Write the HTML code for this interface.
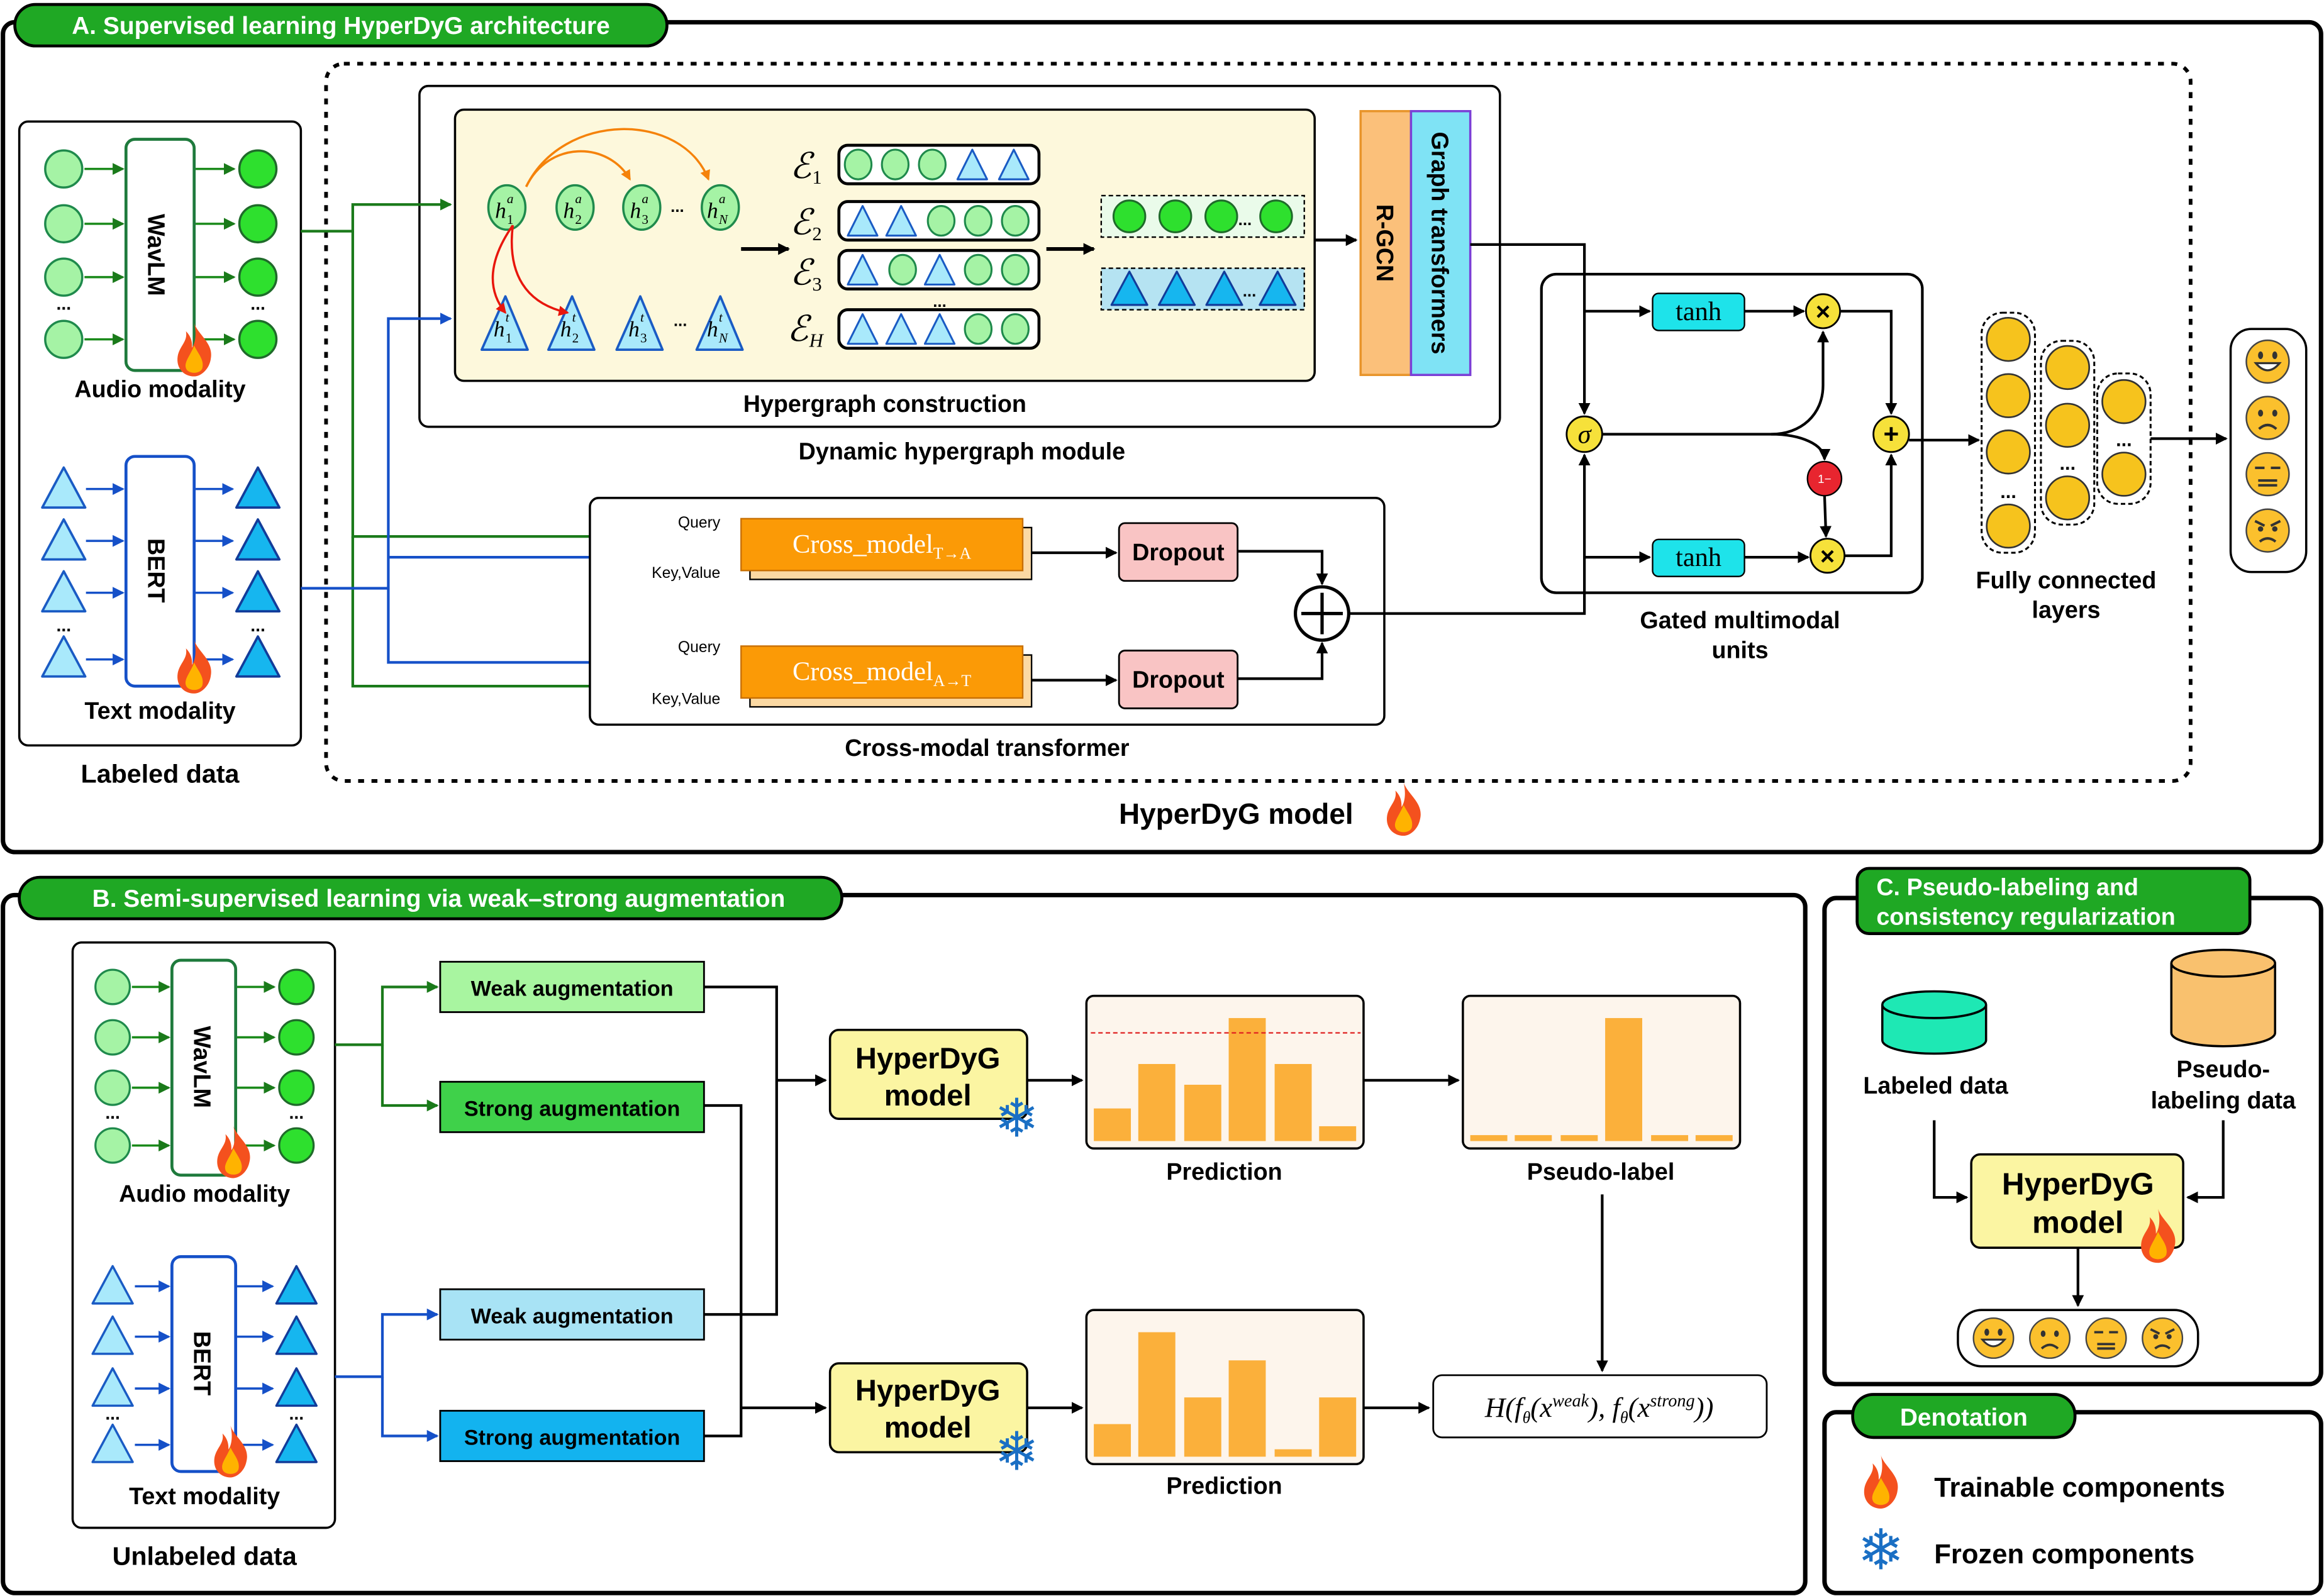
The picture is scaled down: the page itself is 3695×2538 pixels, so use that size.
<!DOCTYPE html>
<html><head><meta charset="utf-8"><style>
html,body{margin:0;padding:0;background:#fff}
svg{display:block}
text{font-family:"Liberation Sans",Arial,sans-serif}
text.sf,text .sf{font-family:"Liberation Serif","DejaVu Serif",serif}
text.dj{font-family:"DejaVu Sans",sans-serif}
.b{font-weight:bold}
</style></head><body>
<svg width="3695" height="2538" viewBox="0 0 1568 1077" xmlns="http://www.w3.org/2000/svg">
<defs>
<marker id="ak" markerWidth="8" markerHeight="8" refX="7" refY="4" orient="auto" markerUnits="userSpaceOnUse"><path d="M0,0 L8,4 L0,8Z" fill="#000"/></marker>
<marker id="ag" markerWidth="8" markerHeight="8" refX="7" refY="4" orient="auto" markerUnits="userSpaceOnUse"><path d="M0,0 L8,4 L0,8Z" fill="#1a7a1a"/></marker>
<marker id="ab" markerWidth="8" markerHeight="8" refX="7" refY="4" orient="auto" markerUnits="userSpaceOnUse"><path d="M0,0 L8,4 L0,8Z" fill="#1550c8"/></marker>
<marker id="ao" markerWidth="7" markerHeight="7" refX="6" refY="3.5" orient="auto" markerUnits="userSpaceOnUse"><path d="M0,0 L7,3.5 L0,7Z" fill="#f5820a"/></marker>
<marker id="ar" markerWidth="7" markerHeight="7" refX="6" refY="3.5" orient="auto" markerUnits="userSpaceOnUse"><path d="M0,0 L7,3.5 L0,7Z" fill="#e8160c"/></marker>
<symbol id="fire" viewBox="0 0 20 26"><path d="M10 0 C12 6 20 10 18 18 C17 23 13 26 10 26 C5 26 1 22 2 16 C3 11 7 9 6 4 C9 7 9 10 9 12 C11 9 11 4 10 0Z" fill="#f4511e"/><path d="M10 11 C12 15 15 18 14 22 C13 25 7 25 6 22 C5 19 8 16 10 11Z" fill="#ffb300"/></symbol>
<symbol id="eh" viewBox="0 0 30 30"><circle cx="15" cy="15" r="13.5" fill="#fbc02d" stroke="#444" stroke-width="1"/><ellipse cx="10.5" cy="11" rx="1.6" ry="2.4" fill="#333"/><ellipse cx="19.5" cy="11" rx="1.6" ry="2.4" fill="#333"/><path d="M7.5 16 Q15 25 22.5 16Z" fill="#fff" stroke="#333" stroke-width="1.3"/></symbol>
<symbol id="es" viewBox="0 0 30 30"><circle cx="15" cy="15" r="13.5" fill="#fbc02d" stroke="#444" stroke-width="1"/><ellipse cx="10.5" cy="12" rx="1.6" ry="2.2" fill="#333"/><ellipse cx="19.5" cy="12" rx="1.6" ry="2.2" fill="#333"/><path d="M9.5 22 Q15 17 20.5 22" fill="none" stroke="#333" stroke-width="1.6"/></symbol>
<symbol id="en" viewBox="0 0 30 30"><circle cx="15" cy="15" r="13.5" fill="#fbc02d" stroke="#444" stroke-width="1"/><path d="M7 11 H13 M17 11 H23 M9 19 H21 M9 22 H21" stroke="#333" stroke-width="1.6"/></symbol>
<symbol id="ea" viewBox="0 0 30 30"><circle cx="15" cy="15" r="13.5" fill="#fbc02d" stroke="#444" stroke-width="1"/><path d="M7 9 L13 12 M23 9 L17 12" stroke="#333" stroke-width="1.6"/><circle cx="10.5" cy="14" r="1.7" fill="#333"/><circle cx="19.5" cy="14" r="1.7" fill="#333"/><path d="M10 22 Q15 18 20 22" fill="none" stroke="#333" stroke-width="1.6"/></symbol>
<symbol id="cl" viewBox="0 0 28 28"><circle cx="14" cy="14" r="12.5" fill="#a5f3a5" stroke="#1f8a4c" stroke-width="1.5"/></symbol>
<symbol id="cd" viewBox="0 0 28 28"><circle cx="14" cy="14" r="12.5" fill="#2ee02e" stroke="#1f6b2a" stroke-width="1.5"/></symbol>
<symbol id="tl" viewBox="0 0 32 30"><path d="M16 1.5 L30.5 28.5 H1.5Z" fill="#a9e9fb" stroke="#1a5bc4" stroke-width="1.6" stroke-linejoin="round"/></symbol>
<symbol id="td" viewBox="0 0 32 30"><path d="M16 1.5 L30.5 28.5 H1.5Z" fill="#16b6ef" stroke="#123c9a" stroke-width="1.6" stroke-linejoin="round"/></symbol>
<symbol id="yc" viewBox="0 0 34 34"><circle cx="17" cy="17" r="15.5" fill="#f6c31d" stroke="#333" stroke-width="1.2"/></symbol>
</defs>

<!-- ===== Section A ===== -->
<rect x="2" y="15" width="1564" height="560" rx="8" fill="none" stroke="#000" stroke-width="3"/>
<rect x="10" y="3" width="440" height="28" rx="14" fill="#1fa824" stroke="#000" stroke-width="2"/>
<text x="230" y="23" text-anchor="middle" class="b" font-size="16.5" fill="#fff">A. Supervised learning HyperDyG architecture</text>

<rect x="13" y="82" width="190" height="421" rx="6" fill="#fff" stroke="#000" stroke-width="1.5"/>
<rect x="85" y="94" width="46" height="156" rx="6" fill="#fff" stroke="#1e7a3c" stroke-width="2"/>
<text transform="translate(100,172) rotate(90)" text-anchor="middle" class="b" font-size="16">WavLM</text>
<g stroke="#1a8a1a" stroke-width="1.5" marker-end="url(#ag)">
<line x1="57" y1="114" x2="83" y2="114"/><line x1="57" y1="151" x2="83" y2="151"/><line x1="57" y1="187" x2="83" y2="187"/><line x1="57" y1="229" x2="83" y2="229"/>
<line x1="132" y1="114" x2="158" y2="114"/><line x1="132" y1="151" x2="158" y2="151"/><line x1="132" y1="187" x2="158" y2="187"/><line x1="132" y1="229" x2="158" y2="229"/>
</g>
<use href="#cl" x="29" y="100" width="28" height="28"/><use href="#cl" x="29" y="137" width="28" height="28"/><use href="#cl" x="29" y="173" width="28" height="28"/><use href="#cl" x="29" y="215" width="28" height="28"/>
<use href="#cd" x="160" y="100" width="28" height="28"/><use href="#cd" x="160" y="137" width="28" height="28"/><use href="#cd" x="160" y="173" width="28" height="28"/><use href="#cd" x="160" y="215" width="28" height="28"/>
<text x="43" y="209" text-anchor="middle" class="b" font-size="12">...</text><text x="174" y="209" text-anchor="middle" class="b" font-size="12">...</text>
<use href="#fire" x="117" y="218" width="28" height="36"/>
<text x="108" y="268" text-anchor="middle" class="b" font-size="16">Audio modality</text>

<rect x="85" y="308" width="46" height="155" rx="6" fill="#fff" stroke="#1550c8" stroke-width="2"/>
<text transform="translate(100,385) rotate(90)" text-anchor="middle" class="b" font-size="16">BERT</text>
<g stroke="#1550c8" stroke-width="1.5" marker-end="url(#ab)">
<line x1="58" y1="330" x2="83" y2="330"/><line x1="58" y1="365" x2="83" y2="365"/><line x1="58" y1="400" x2="83" y2="400"/><line x1="58" y1="445" x2="83" y2="445"/>
<line x1="132" y1="330" x2="157" y2="330"/><line x1="132" y1="365" x2="157" y2="365"/><line x1="132" y1="400" x2="157" y2="400"/><line x1="132" y1="445" x2="157" y2="445"/>
</g>
<use href="#tl" x="27" y="314" width="32" height="30"/><use href="#tl" x="27" y="349" width="32" height="30"/><use href="#tl" x="27" y="384" width="32" height="30"/><use href="#tl" x="27" y="428" width="32" height="30"/>
<use href="#td" x="158" y="314" width="32" height="30"/><use href="#td" x="158" y="349" width="32" height="30"/><use href="#td" x="158" y="384" width="32" height="30"/><use href="#td" x="158" y="428" width="32" height="30"/>
<text x="43" y="426" text-anchor="middle" class="b" font-size="12">...</text><text x="174" y="426" text-anchor="middle" class="b" font-size="12">...</text>
<use href="#fire" x="117" y="432" width="28" height="36"/>
<text x="108" y="485" text-anchor="middle" class="b" font-size="16">Text modality</text>
<text x="108" y="528" text-anchor="middle" class="b" font-size="17.5">Labeled data</text>

<rect x="220" y="43" width="1258" height="484" rx="12" fill="none" stroke="#000" stroke-width="2.5" stroke-dasharray="4,5"/>
<text x="834" y="556" text-anchor="middle" class="b" font-size="19.5">HyperDyG model</text>
<use href="#fire" x="933" y="528" width="28" height="36"/>

<rect x="283" y="58" width="729" height="230" rx="6" fill="#fff" stroke="#000" stroke-width="1.5"/>
<rect x="307" y="74" width="580" height="183" rx="6" fill="#fdf8dc" stroke="#000" stroke-width="1.5"/>
<text x="597" y="278" text-anchor="middle" class="b" font-size="16">Hypergraph construction</text>
<text x="649" y="310" text-anchor="middle" class="b" font-size="16">Dynamic hypergraph module</text>
<g fill="#a5f3a5" stroke="#1f8a4c" stroke-width="1.5">
<ellipse cx="342" cy="140" rx="12.5" ry="15"/><ellipse cx="388" cy="140" rx="12.5" ry="15"/><ellipse cx="433" cy="140" rx="12.5" ry="15"/><ellipse cx="486" cy="140" rx="12.5" ry="15"/>
</g>
<g fill="#a9e9fb" stroke="#1a5bc4" stroke-width="1.6" stroke-linejoin="round">
<path d="M341 200 L356 236 H325Z"/><path d="M386 200 L401 236 H370Z"/><path d="M432 200 L447 236 H416Z"/><path d="M486 200 L501 236 H470Z"/>
</g>
<g font-style="italic" font-size="15">
<text class="sf" x="334" y="147">h</text><text class="sf" x="342" y="137" font-size="9">a</text><text class="sf" x="342" y="151" font-size="9" font-style="normal">1</text>
<text class="sf" x="380" y="147">h</text><text class="sf" x="388" y="137" font-size="9">a</text><text class="sf" x="388" y="151" font-size="9" font-style="normal">2</text>
<text class="sf" x="425" y="147">h</text><text class="sf" x="433" y="137" font-size="9">a</text><text class="sf" x="433" y="151" font-size="9" font-style="normal">3</text>
<text class="sf" x="477" y="147">h</text><text class="sf" x="485" y="137" font-size="9">a</text><text class="sf" x="485" y="151" font-size="9">N</text>
<text class="sf" x="333" y="227">h</text><text class="sf" x="341" y="217" font-size="9">t</text><text class="sf" x="341" y="231" font-size="9" font-style="normal">1</text>
<text class="sf" x="378" y="227">h</text><text class="sf" x="386" y="217" font-size="9">t</text><text class="sf" x="386" y="231" font-size="9" font-style="normal">2</text>
<text class="sf" x="424" y="227">h</text><text class="sf" x="432" y="217" font-size="9">t</text><text class="sf" x="432" y="231" font-size="9" font-style="normal">3</text>
<text class="sf" x="477" y="227">h</text><text class="sf" x="485" y="217" font-size="9">t</text><text class="sf" x="485" y="231" font-size="9">N</text>
</g>
<text x="457" y="143" text-anchor="middle" class="b" font-size="11">...</text><text x="459" y="220" text-anchor="middle" class="b" font-size="11">...</text>
<path d="M355 126 C370 95 410 95 425 121" fill="none" stroke="#f5820a" stroke-width="1.5" marker-end="url(#ao)"/>
<path d="M355 126 C380 75 460 75 478 121" fill="none" stroke="#f5820a" stroke-width="1.5" marker-end="url(#ao)"/>
<path d="M346 152 C330 175 328 195 341 211" fill="none" stroke="#e8160c" stroke-width="1.5" marker-end="url(#ar)"/>
<path d="M346 152 C342 185 355 205 383 211" fill="none" stroke="#e8160c" stroke-width="1.5" marker-end="url(#ar)"/>
<line x1="500" y1="168" x2="532" y2="168" stroke="#000" stroke-width="2.5" marker-end="url(#ak)"/>
<g font-style="italic" font-size="24">
<text class="sf" x="533" y="120">ℰ</text><text class="sf" x="548" y="124" font-size="13" font-style="normal">1</text>
<text class="sf" x="533" y="158">ℰ</text><text class="sf" x="548" y="162" font-size="13" font-style="normal">2</text>
<text class="sf" x="533" y="192">ℰ</text><text class="sf" x="548" y="196" font-size="13" font-style="normal">3</text>
<text class="sf" x="531" y="230">ℰ</text><text class="sf" x="546" y="234" font-size="13">H</text>
</g>
<g fill="#fff" stroke="#000" stroke-width="2">
<rect x="566" y="98" width="135" height="26" rx="6"/><rect x="566" y="136" width="135" height="26" rx="6"/><rect x="566" y="169" width="135" height="26" rx="6"/><rect x="566" y="209" width="135" height="26" rx="6"/>
</g>
<text x="634" y="207" text-anchor="middle" class="b" font-size="11">...</text>
<g fill="#a5f3a5" stroke="#1f8a4c" stroke-width="1.3">
<ellipse cx="579" cy="111" rx="9" ry="10"/><ellipse cx="604" cy="111" rx="9" ry="10"/><ellipse cx="629" cy="111" rx="9" ry="10"/>
<ellipse cx="635" cy="149" rx="9" ry="10"/><ellipse cx="660" cy="149" rx="9" ry="10"/><ellipse cx="685" cy="149" rx="9" ry="10"/>
<ellipse cx="609" cy="182" rx="9" ry="10"/><ellipse cx="660" cy="182" rx="9" ry="10"/><ellipse cx="685" cy="182" rx="9" ry="10"/>
<ellipse cx="660" cy="222" rx="9" ry="10"/><ellipse cx="685" cy="222" rx="9" ry="10"/>
</g>
<g fill="#a9e9fb" stroke="#1a5bc4" stroke-width="1.3" stroke-linejoin="round">
<path d="M656 101 L666 121 H646Z"/><path d="M684 101 L694 121 H674Z"/>
<path d="M582 139 L592 159 H572Z"/><path d="M608 139 L618 159 H598Z"/>
<path d="M582 172 L592 192 H572Z"/><path d="M634 172 L644 192 H624Z"/>
<path d="M582 212 L592 232 H572Z"/><path d="M608 212 L618 232 H598Z"/><path d="M634 212 L644 232 H624Z"/>
</g>
<line x1="706" y1="168" x2="738" y2="168" stroke="#000" stroke-width="2.5" marker-end="url(#ak)"/>
<rect x="743" y="132" width="137" height="28" fill="#eafbea" stroke="#000" stroke-width="1" stroke-dasharray="3,2"/>
<rect x="743" y="181" width="137" height="28" fill="#b5e3f2" stroke="#000" stroke-width="1" stroke-dasharray="3,2"/>
<use href="#cd" x="750" y="134" width="24" height="24"/><use href="#cd" x="781" y="134" width="24" height="24"/><use href="#cd" x="812" y="134" width="24" height="24"/><use href="#cd" x="849" y="134" width="24" height="24"/>
<text x="840" y="152" text-anchor="middle" class="b" font-size="11">...</text>
<use href="#td" x="748" y="182" width="28" height="25"/><use href="#td" x="780" y="182" width="28" height="25"/><use href="#td" x="812" y="182" width="28" height="25"/><use href="#td" x="848" y="182" width="28" height="25"/>
<text x="843" y="200" text-anchor="middle" class="b" font-size="11">...</text>
<line x1="887" y1="162" x2="915" y2="162" stroke="#000" stroke-width="2" marker-end="url(#ak)"/>
<rect x="918" y="75" width="34" height="178" fill="#fbc07a" stroke="#e8942a" stroke-width="1.5"/>
<rect x="952" y="75" width="40" height="178" fill="#7fe3f5" stroke="#7b3fd6" stroke-width="1.5"/>
<text transform="translate(929,164) rotate(90)" text-anchor="middle" class="b" font-size="16">R-GCN</text>
<text transform="translate(966,164) rotate(90)" text-anchor="middle" class="b" font-size="16">Graph transformers</text>

<g fill="none" stroke-width="1.8">
<path d="M203 156 H238 V138 H304" stroke="#1a7a1a" marker-end="url(#ag)"/>
<path d="M238 156 V362 H497" stroke="#1a7a1a" marker-end="url(#ag)"/>
<path d="M238 362 V463 H497" stroke="#1a7a1a" marker-end="url(#ag)"/>
<path d="M203 397 H262 V215 H304" stroke="#1550c8" marker-end="url(#ab)"/>
<path d="M262 376 H497" stroke="#1550c8" marker-end="url(#ab)"/>
<path d="M262 397 V447 H497" stroke="#1550c8" marker-end="url(#ab)"/>
</g>

<rect x="398" y="336" width="536" height="153" rx="6" fill="#fff" stroke="#000" stroke-width="1.5"/>
<text x="666" y="510" text-anchor="middle" class="b" font-size="16">Cross-modal transformer</text>
<text x="486" y="356" text-anchor="end" font-size="10.5">Query</text>
<text x="486" y="390" text-anchor="end" font-size="10.5">Key,Value</text>
<text x="486" y="440" text-anchor="end" font-size="10.5">Query</text>
<text x="486" y="475" text-anchor="end" font-size="10.5">Key,Value</text>
<rect x="506" y="356" width="190" height="35" fill="#fbd9a3" stroke="#000" stroke-width="1"/>
<rect x="500" y="350" width="190" height="35" fill="#fb9a06" stroke="#c86f00" stroke-width="1"/>
<rect x="506" y="442" width="190" height="35" fill="#fbd9a3" stroke="#000" stroke-width="1"/>
<rect x="500" y="436" width="190" height="35" fill="#fb9a06" stroke="#c86f00" stroke-width="1"/>
<text class="sf" x="595" y="373" text-anchor="middle" font-size="18" fill="#fff">Cross_model<tspan font-size="11" dy="4">T→A</tspan></text>
<text class="sf" x="595" y="459" text-anchor="middle" font-size="18" fill="#fff">Cross_model<tspan font-size="11" dy="4">A→T</tspan></text>
<line x1="696" y1="373" x2="753" y2="373" stroke="#000" stroke-width="1.8" marker-end="url(#ak)"/>
<line x1="696" y1="459" x2="753" y2="459" stroke="#000" stroke-width="1.8" marker-end="url(#ak)"/>
<rect x="755" y="353" width="80" height="39" rx="4" fill="#f9c4c4" stroke="#000" stroke-width="1.2"/>
<rect x="755" y="439" width="80" height="39" rx="4" fill="#f9c4c4" stroke="#000" stroke-width="1.2"/>
<text x="795" y="378" text-anchor="middle" class="b" font-size="16">Dropout</text>
<text x="795" y="464" text-anchor="middle" class="b" font-size="16">Dropout</text>
<path d="M835 372 H892 V394" fill="none" stroke="#000" stroke-width="1.8" marker-end="url(#ak)"/>
<path d="M835 458 H892 V434" fill="none" stroke="#000" stroke-width="1.8" marker-end="url(#ak)"/>
<circle cx="892" cy="414" r="18" fill="#fff" stroke="#000" stroke-width="2.2"/>
<path d="M878 414 H906 M892 400 V428" stroke="#000" stroke-width="2.2"/>

<rect x="1040" y="185" width="257" height="215" rx="10" fill="#fff" stroke="#000" stroke-width="1.8"/>
<text x="1174" y="424" text-anchor="middle" class="b" font-size="16">Gated multimodal</text>
<text x="1174" y="444" text-anchor="middle" class="b" font-size="16">units</text>
<path d="M992 165 H1069 V279" fill="none" stroke="#000" stroke-width="1.8" marker-end="url(#ak)"/>
<path d="M910 414 H1069 V307" fill="none" stroke="#000" stroke-width="1.8" marker-end="url(#ak)"/>
<path d="M1069 210 H1113" fill="none" stroke="#000" stroke-width="1.8" marker-end="url(#ak)"/>
<path d="M1069 376 H1113" fill="none" stroke="#000" stroke-width="1.8" marker-end="url(#ak)"/>
<rect x="1115" y="198" width="62" height="25" rx="4" fill="#1ee3ea" stroke="#000" stroke-width="1"/>
<rect x="1115" y="364" width="62" height="25" rx="4" fill="#1ee3ea" stroke="#000" stroke-width="1"/>
<text class="sf" x="1146" y="216" text-anchor="middle" font-size="18">tanh</text>
<text class="sf" x="1146" y="382" text-anchor="middle" font-size="18">tanh</text>
<line x1="1177" y1="210" x2="1217" y2="210" stroke="#000" stroke-width="1.8" marker-end="url(#ak)"/>
<line x1="1177" y1="376" x2="1220" y2="376" stroke="#000" stroke-width="1.8" marker-end="url(#ak)"/>
<path d="M1081 293 H1195 C1215 293 1230 280 1230 260 V224" fill="none" stroke="#000" stroke-width="1.8" marker-end="url(#ak)"/>
<path d="M1195 293 C1215 293 1231 300 1231 310" fill="none" stroke="#000" stroke-width="1.8" marker-end="url(#ak)"/>
<line x1="1231" y1="334" x2="1232" y2="362" stroke="#000" stroke-width="1.8" marker-end="url(#ak)"/>
<path d="M1242 210 H1276 V279" fill="none" stroke="#000" stroke-width="1.8" marker-end="url(#ak)"/>
<path d="M1245 375 H1276 V307" fill="none" stroke="#000" stroke-width="1.8" marker-end="url(#ak)"/>
<circle cx="1069" cy="293" r="12" fill="#f6e13a" stroke="#000" stroke-width="1.2"/>
<text class="sf" x="1069" y="299" text-anchor="middle" font-style="italic" font-size="18">σ</text>
<circle cx="1230" cy="210" r="11.5" fill="#f6e13a" stroke="#000" stroke-width="1.2"/>
<text x="1230" y="216" text-anchor="middle" class="b" font-size="17">×</text>
<circle cx="1233" cy="375" r="11.5" fill="#f6e13a" stroke="#000" stroke-width="1.2"/>
<text x="1233" y="381" text-anchor="middle" class="b" font-size="17">×</text>
<circle cx="1276" cy="293" r="12" fill="#f6e13a" stroke="#000" stroke-width="1.2"/>
<text x="1276" y="299" text-anchor="middle" class="b" font-size="18">+</text>
<circle cx="1231" cy="323" r="11.5" fill="#e8252f" stroke="#000" stroke-width="1"/>
<text x="1231" y="326" text-anchor="middle" font-size="8" fill="#fff">1−</text>
<line x1="1288" y1="297" x2="1335" y2="297" stroke="#000" stroke-width="1.8" marker-end="url(#ak)"/>

<g fill="none" stroke="#000" stroke-width="1.3" stroke-dasharray="3,2">
<rect x="1337" y="211" width="36" height="162" rx="14"/><rect x="1377" y="230" width="36" height="124" rx="14"/><rect x="1415" y="252" width="36" height="88" rx="14"/>
</g>
<use href="#yc" x="1339" y="213" width="32" height="32"/><use href="#yc" x="1339" y="251" width="32" height="32"/><use href="#yc" x="1339" y="289" width="32" height="32"/><use href="#yc" x="1339" y="339" width="32" height="32"/>
<use href="#yc" x="1379" y="232" width="32" height="32"/><use href="#yc" x="1379" y="271" width="32" height="32"/><use href="#yc" x="1379" y="320" width="32" height="32"/>
<use href="#yc" x="1417" y="255" width="32" height="32"/><use href="#yc" x="1417" y="304" width="32" height="32"/>
<text x="1355" y="336" text-anchor="middle" class="b" font-size="13">...</text>
<text x="1395" y="317" text-anchor="middle" class="b" font-size="13">...</text>
<text x="1433" y="301" text-anchor="middle" class="b" font-size="13">...</text>
<text x="1394" y="397" text-anchor="middle" class="b" font-size="16">Fully connected</text>
<text x="1394" y="417" text-anchor="middle" class="b" font-size="16">layers</text>
<line x1="1451" y1="296" x2="1502" y2="296" stroke="#000" stroke-width="1.8" marker-end="url(#ak)"/>
<rect x="1505" y="222" width="51" height="164" rx="14" fill="#fff" stroke="#000" stroke-width="1.5"/>
<use href="#eh" x="1514" y="228" width="32" height="32"/><use href="#es" x="1514" y="266" width="32" height="32"/><use href="#en" x="1514" y="304" width="32" height="32"/><use href="#ea" x="1514" y="342" width="32" height="32"/>

<!-- ===== Section B ===== -->
<rect x="2" y="604" width="1216" height="471" rx="8" fill="none" stroke="#000" stroke-width="3"/>
<rect x="13" y="592" width="555" height="28" rx="14" fill="#1fa824" stroke="#000" stroke-width="2"/>
<text x="296" y="612" text-anchor="middle" class="b" font-size="16.5" fill="#fff">B. Semi-supervised learning via weak–strong augmentation</text>

<rect x="49" y="636" width="177" height="395" rx="6" fill="#fff" stroke="#000" stroke-width="1.5"/>
<rect x="116" y="648" width="43" height="145" rx="6" fill="#fff" stroke="#1e7a3c" stroke-width="2"/>
<text transform="translate(131,720) rotate(90)" text-anchor="middle" class="b" font-size="16">WavLM</text>
<g stroke="#1a8a1a" stroke-width="1.5" marker-end="url(#ag)">
<line x1="89" y1="666" x2="114" y2="666"/><line x1="89" y1="700" x2="114" y2="700"/><line x1="89" y1="734" x2="114" y2="734"/><line x1="89" y1="773" x2="114" y2="773"/>
<line x1="160" y1="666" x2="185" y2="666"/><line x1="160" y1="700" x2="185" y2="700"/><line x1="160" y1="734" x2="185" y2="734"/><line x1="160" y1="773" x2="185" y2="773"/>
</g>
<use href="#cl" x="63" y="653" width="26" height="26"/><use href="#cl" x="63" y="687" width="26" height="26"/><use href="#cl" x="63" y="721" width="26" height="26"/><use href="#cl" x="63" y="760" width="26" height="26"/>
<use href="#cd" x="187" y="653" width="26" height="26"/><use href="#cd" x="187" y="687" width="26" height="26"/><use href="#cd" x="187" y="721" width="26" height="26"/><use href="#cd" x="187" y="760" width="26" height="26"/>
<text x="76" y="755" text-anchor="middle" class="b" font-size="12">...</text><text x="200" y="755" text-anchor="middle" class="b" font-size="12">...</text>
<use href="#fire" x="144" y="760" width="27" height="35"/>
<text x="138" y="811" text-anchor="middle" class="b" font-size="16">Audio modality</text>

<rect x="116" y="848" width="43" height="145" rx="6" fill="#fff" stroke="#1550c8" stroke-width="2"/>
<text transform="translate(131,920) rotate(90)" text-anchor="middle" class="b" font-size="16">BERT</text>
<g stroke="#1550c8" stroke-width="1.5" marker-end="url(#ab)">
<line x1="91" y1="868" x2="114" y2="868"/><line x1="91" y1="902" x2="114" y2="902"/><line x1="91" y1="937" x2="114" y2="937"/><line x1="91" y1="975" x2="114" y2="975"/>
<line x1="160" y1="868" x2="184" y2="868"/><line x1="160" y1="902" x2="184" y2="902"/><line x1="160" y1="937" x2="184" y2="937"/><line x1="160" y1="975" x2="184" y2="975"/>
</g>
<use href="#tl" x="61" y="853" width="30" height="28"/><use href="#tl" x="61" y="887" width="30" height="28"/><use href="#tl" x="61" y="922" width="30" height="28"/><use href="#tl" x="61" y="960" width="30" height="28"/>
<use href="#td" x="185" y="853" width="30" height="28"/><use href="#td" x="185" y="887" width="30" height="28"/><use href="#td" x="185" y="922" width="30" height="28"/><use href="#td" x="185" y="960" width="30" height="28"/>
<text x="76" y="958" text-anchor="middle" class="b" font-size="12">...</text><text x="200" y="958" text-anchor="middle" class="b" font-size="12">...</text>
<use href="#fire" x="142" y="962" width="27" height="35"/>
<text x="138" y="1015" text-anchor="middle" class="b" font-size="16">Text modality</text>
<text x="138" y="1056" text-anchor="middle" class="b" font-size="17.5">Unlabeled data</text>

<g fill="none" stroke-width="1.8">
<path d="M226 705 H258 V666 H295" stroke="#1a7a1a" marker-end="url(#ag)"/>
<path d="M258 705 V746 H295" stroke="#1a7a1a" marker-end="url(#ag)"/>
<path d="M226 929 H258 V887 H295" stroke="#1550c8" marker-end="url(#ab)"/>
<path d="M258 929 V969 H295" stroke="#1550c8" marker-end="url(#ab)"/>
</g>
<rect x="297" y="649" width="178" height="34" fill="#a8f5a0" stroke="#000" stroke-width="1.2"/>
<rect x="297" y="730" width="178" height="34" fill="#3fd14a" stroke="#000" stroke-width="1.2"/>
<rect x="297" y="870" width="178" height="34" fill="#a8e3f5" stroke="#000" stroke-width="1.2"/>
<rect x="297" y="952" width="178" height="34" fill="#13b3ef" stroke="#000" stroke-width="1.2"/>
<text x="386" y="672" text-anchor="middle" class="b" font-size="14.5">Weak augmentation</text>
<text x="386" y="753" text-anchor="middle" class="b" font-size="14.5">Strong augmentation</text>
<text x="386" y="893" text-anchor="middle" class="b" font-size="14.5">Weak augmentation</text>
<text x="386" y="975" text-anchor="middle" class="b" font-size="14.5">Strong augmentation</text>
<g fill="none" stroke="#000" stroke-width="1.8">
<path d="M475 666 H524 V887 H475"/>
<path d="M524 729 H557" marker-end="url(#ak)"/>
<path d="M475 746 H500 V969 H475"/>
<path d="M500 950 H557" marker-end="url(#ak)"/>
</g>
<rect x="560" y="695" width="133" height="60" rx="6" fill="#fbf5a2" stroke="#000" stroke-width="1.5"/>
<rect x="560" y="920" width="133" height="60" rx="6" fill="#fbf5a2" stroke="#000" stroke-width="1.5"/>
<text x="626" y="721" text-anchor="middle" class="b" font-size="20">HyperDyG</text><text x="626" y="746" text-anchor="middle" class="b" font-size="20">model</text>
<text x="626" y="945" text-anchor="middle" class="b" font-size="20">HyperDyG</text><text x="626" y="970" text-anchor="middle" class="b" font-size="20">model</text>
<text class="dj" x="686" y="767" text-anchor="middle" font-size="36" fill="#1a6fc4">❄</text>
<text class="dj" x="686" y="992" text-anchor="middle" font-size="36" fill="#1a6fc4">❄</text>
<line x1="693" y1="729" x2="730" y2="729" stroke="#000" stroke-width="1.8" marker-end="url(#ak)"/>
<line x1="693" y1="950" x2="730" y2="950" stroke="#000" stroke-width="1.8" marker-end="url(#ak)"/>

<rect x="733" y="672" width="187" height="103" rx="5" fill="#fdf5ec" stroke="#000" stroke-width="1.5"/>
<g fill="#fbb03b">
<rect x="738" y="748" width="25" height="22"/><rect x="768" y="718" width="25" height="52"/><rect x="799" y="732" width="25" height="38"/><rect x="829" y="687" width="25" height="83"/><rect x="860" y="718" width="25" height="52"/><rect x="890" y="760" width="25" height="10"/>
</g>
<line x1="736" y1="697" x2="918" y2="697" stroke="#e02020" stroke-width="1" stroke-dasharray="3,2"/>
<text x="826" y="796" text-anchor="middle" class="b" font-size="16">Prediction</text>
<line x1="920" y1="729" x2="984" y2="729" stroke="#000" stroke-width="1.8" marker-end="url(#ak)"/>
<rect x="987" y="672" width="187" height="103" rx="5" fill="#fdf5ec" stroke="#000" stroke-width="1.5"/>
<g fill="#fbb03b">
<rect x="992" y="766" width="25" height="4"/><rect x="1022" y="766" width="25" height="4"/><rect x="1053" y="766" width="25" height="4"/><rect x="1083" y="687" width="25" height="83"/><rect x="1114" y="766" width="25" height="4"/><rect x="1144" y="766" width="25" height="4"/>
</g>
<text x="1080" y="796" text-anchor="middle" class="b" font-size="16">Pseudo-label</text>
<line x1="1081" y1="806" x2="1081" y2="925" stroke="#000" stroke-width="1.8" marker-end="url(#ak)"/>

<rect x="733" y="884" width="187" height="104" rx="5" fill="#fdf5ec" stroke="#000" stroke-width="1.5"/>
<g fill="#fbb03b">
<rect x="738" y="961" width="25" height="22"/><rect x="768" y="899" width="25" height="84"/><rect x="799" y="943" width="25" height="40"/><rect x="829" y="918" width="25" height="65"/><rect x="860" y="978" width="25" height="5"/><rect x="890" y="943" width="25" height="40"/>
</g>
<text x="826" y="1008" text-anchor="middle" class="b" font-size="16">Prediction</text>
<line x1="920" y1="950" x2="964" y2="950" stroke="#000" stroke-width="1.8" marker-end="url(#ak)"/>
<rect x="967" y="928" width="225" height="42" rx="6" fill="#fff" stroke="#000" stroke-width="1.2"/>
<text class="sf" x="1079" y="956" text-anchor="middle" font-style="italic" font-size="19">H(f<tspan font-size="11" dy="4">θ</tspan><tspan dy="-4">(x</tspan><tspan font-size="12" dy="-7">weak</tspan><tspan dy="7">), f</tspan><tspan font-size="11" dy="4">θ</tspan><tspan dy="-4">(x</tspan><tspan font-size="12" dy="-7">strong</tspan><tspan dy="7">))</tspan></text>

<!-- ===== Section C ===== -->
<rect x="1231" y="606" width="335" height="328" rx="8" fill="none" stroke="#000" stroke-width="3"/>
<rect x="1253" y="586" width="265" height="44" rx="8" fill="#1fa824" stroke="#000" stroke-width="2"/>
<text x="1266" y="604" class="b" font-size="16" fill="#fff">C. Pseudo-labeling and</text>
<text x="1266" y="624" class="b" font-size="16" fill="#fff">consistency regularization</text>
<path d="M1270 678 V702 A35 9 0 0 0 1340 702 V678" fill="#1ee8b4" stroke="#000" stroke-width="1.5"/>
<ellipse cx="1305" cy="678" rx="35" ry="9" fill="#1ee8b4" stroke="#000" stroke-width="1.5"/>
<path d="M1465 650 V697 A35 9 0 0 0 1535 697 V650" fill="#f9c16e" stroke="#000" stroke-width="1.5"/>
<ellipse cx="1500" cy="650" rx="35" ry="9" fill="#f9c16e" stroke="#000" stroke-width="1.5"/>
<text x="1306" y="738" text-anchor="middle" class="b" font-size="16">Labeled data</text>
<text x="1500" y="727" text-anchor="middle" class="b" font-size="16">Pseudo-</text>
<text x="1500" y="748" text-anchor="middle" class="b" font-size="16">labeling data</text>
<path d="M1305 756 V808 H1327" fill="none" stroke="#000" stroke-width="1.8" marker-end="url(#ak)"/>
<path d="M1500 756 V808 H1476" fill="none" stroke="#000" stroke-width="1.8" marker-end="url(#ak)"/>
<rect x="1330" y="779" width="143" height="63" rx="6" fill="#fbf5a2" stroke="#000" stroke-width="1.5"/>
<text x="1402" y="806" text-anchor="middle" class="b" font-size="21">HyperDyG</text>
<text x="1402" y="832" text-anchor="middle" class="b" font-size="21">model</text>
<use href="#fire" x="1442" y="815" width="28" height="38"/>
<line x1="1402" y1="842" x2="1402" y2="881" stroke="#000" stroke-width="1.8" marker-end="url(#ak)"/>
<rect x="1321" y="884" width="162" height="38" rx="16" fill="#fff" stroke="#000" stroke-width="1.5"/>
<use href="#eh" x="1330" y="888" width="30" height="30"/><use href="#es" x="1368" y="888" width="30" height="30"/><use href="#en" x="1406" y="888" width="30" height="30"/><use href="#ea" x="1444" y="888" width="30" height="30"/>

<rect x="1231" y="953" width="335" height="122" rx="8" fill="none" stroke="#000" stroke-width="3"/>
<rect x="1250" y="941" width="150" height="29" rx="14" fill="#1fa824" stroke="#000" stroke-width="2"/>
<text x="1325" y="962" text-anchor="middle" class="b" font-size="16.5" fill="#fff">Denotation</text>
<use href="#fire" x="1255" y="982" width="28" height="36"/>
<text x="1305" y="1010" class="b" font-size="18.5">Trainable components</text>
<text class="dj" x="1269" y="1059" text-anchor="middle" font-size="38" fill="#1a6fc4">❄</text>
<text x="1305" y="1055" class="b" font-size="18.5">Frozen components</text>
</svg>
</body></html>
